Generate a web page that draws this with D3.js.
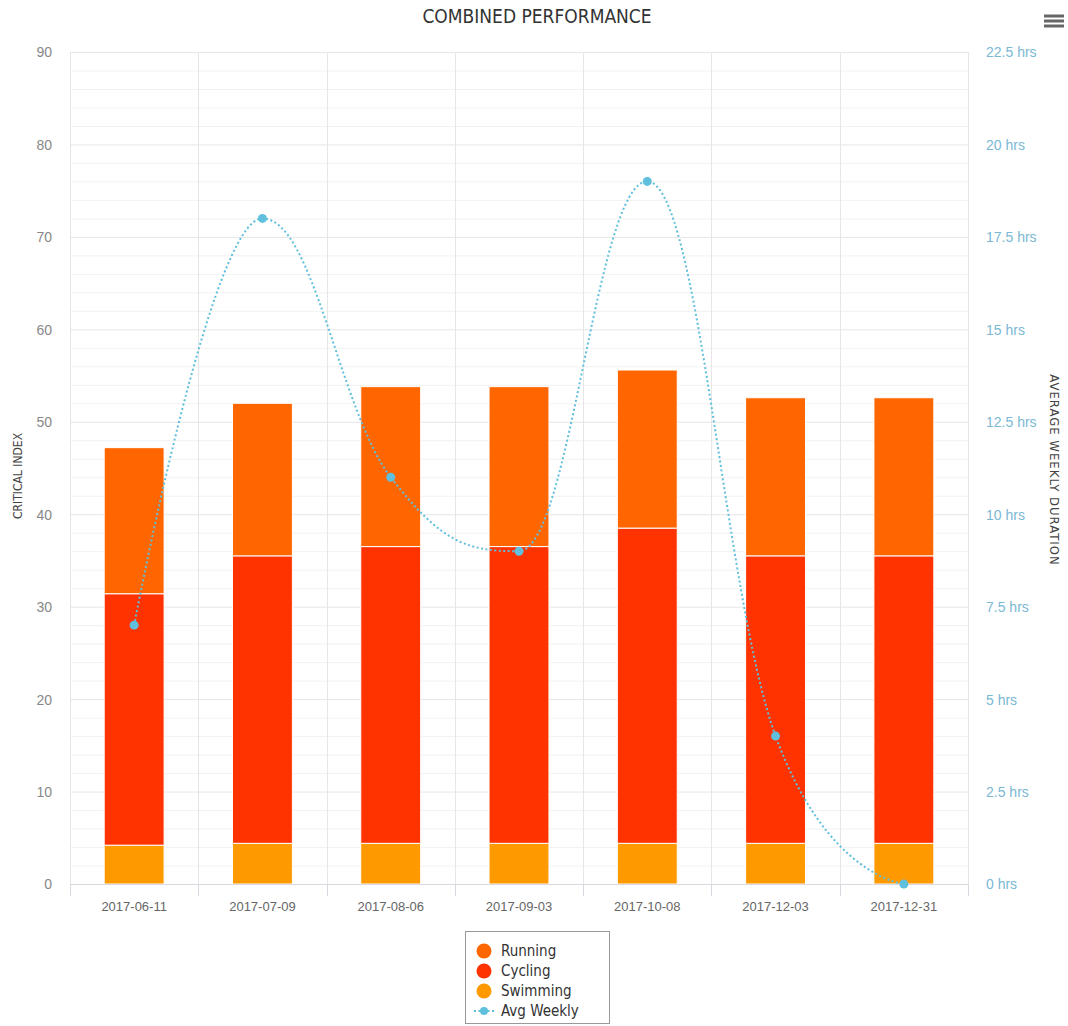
<!DOCTYPE html>
<html>
<head>
<meta charset="utf-8">
<script src="https://cdn.jsdelivr.net/npm/d3@7"></script>
<style>
  html, body { margin: 0; padding: 0; background: #fff; }
  svg { display: block; font-family: "Liberation Sans Narrow", "DejaVu Sans Condensed", "Roboto Condensed", sans-serif; }
</style>
</head>
<body>
<svg id="chart" width="1068" height="1026"></svg>
<script>
// Weekly buckets shown on the category axis
const weeks = ["2017-06-11", "2017-07-09", "2017-08-06", "2017-09-03", "2017-10-08", "2017-12-03", "2017-12-31"];

// Critical index contribution per sport (stacked, left axis)
const swimming = [4.2, 4.4, 4.4, 4.4, 4.4, 4.4, 4.4];
const cycling  = [27.2, 31.1, 32.1, 32.1, 34.1, 31.1, 31.1];
const running  = [15.8, 16.5, 17.3, 17.3, 17.1, 17.1, 17.1];

// Average weekly duration in hours (right axis)
const avgWeekly = [7, 18, 11, 9, 19, 4, 0];

// Axis ticks
const leftTicks = [0, 10, 20, 30, 40, 50, 60, 70, 80, 90];
const rightTicks = [0, 2.5, 5, 7.5, 10, 12.5, 15, 17.5, 20, 22.5];

const seriesNames = ["Running", "Cycling", "Swimming"];
const colors = { Running: "#ff6600", Cycling: "#ff3300", Swimming: "#ff9900" };
const lineColor = "#5fbfdc";

const svg = d3.select("#chart");
const plot = { left: 70, right: 968, top: 52, bottom: 884 };

const x = d3.scaleBand().domain(weeks).range([plot.left, plot.right]).paddingInner(0).paddingOuter(0);
const yLeft = d3.scaleLinear().domain([0, 90]).range([plot.bottom, plot.top]);
const yRight = d3.scaleLinear().domain([0, 22.5]).range([plot.bottom, plot.top]);

// Minor grid lines every 2 index points
const grid = svg.append("g");
grid.selectAll("line.minor")
  .data(d3.range(2, 90, 2).filter(v => v % 10 !== 0))
  .join("line")
  .attr("x1", plot.left).attr("x2", plot.right)
  .attr("y1", d => yLeft(d) + 0.5).attr("y2", d => yLeft(d) + 0.5)
  .attr("stroke", "#f2f2f2").attr("stroke-width", 1);
grid.selectAll("line.major")
  .data(leftTicks.filter(v => v > 0))
  .join("line")
  .attr("x1", plot.left).attr("x2", plot.right)
  .attr("y1", d => yLeft(d) + 0.5).attr("y2", d => yLeft(d) + 0.5)
  .attr("stroke", "#e6e6e6").attr("stroke-width", 1);
// Vertical grid lines at category boundaries
const bounds = weeks.map(w => x(w)).concat([plot.right]);
grid.selectAll("line.v")
  .data(bounds)
  .join("line")
  .attr("x1", d => Math.round(d) + 0.5).attr("x2", d => Math.round(d) + 0.5)
  .attr("y1", plot.top).attr("y2", plot.bottom)
  .attr("stroke", "#e6e6e6").attr("stroke-width", 1);

// Stacked bars
const table = weeks.map((w, i) => ({ week: w, Swimming: swimming[i], Cycling: cycling[i], Running: running[i] }));
const stack = d3.stack().keys(["Swimming", "Cycling", "Running"]);
const layers = stack(table);
const barW = x.bandwidth() * 0.467;
svg.append("g").selectAll("g")
  .data(layers)
  .join("g")
  .attr("fill", d => colors[d.key])
  .selectAll("rect")
  .data(d => d)
  .join("rect")
  .attr("x", d => x(d.data.week) + (x.bandwidth() - barW) / 2)
  .attr("width", barW)
  .attr("y", d => yLeft(d[1]))
  .attr("height", d => yLeft(d[0]) - yLeft(d[1]))
  .attr("stroke", "#ffffff").attr("stroke-width", 1);

// X axis line and ticks
svg.append("line")
  .attr("x1", plot.left).attr("x2", plot.right)
  .attr("y1", plot.bottom + 0.5).attr("y2", plot.bottom + 0.5)
  .attr("stroke", "#d8d8e0").attr("stroke-width", 1);
svg.append("g").selectAll("line")
  .data(bounds)
  .join("line")
  .attr("x1", d => Math.round(d) + 0.5).attr("x2", d => Math.round(d) + 0.5)
  .attr("y1", plot.bottom).attr("y2", plot.bottom + 12)
  .attr("stroke", "#d8d8e0");

const xAxis = d3.axisBottom(x).tickSize(0).tickPadding(18);
const gx = svg.append("g").attr("transform", `translate(0,${plot.bottom})`).call(xAxis);
gx.select(".domain").remove();
gx.selectAll("text").attr("fill", "#666").attr("font-size", 13);

// Left axis
const gl = svg.append("g").attr("transform", `translate(${plot.left},0)`)
  .call(d3.axisLeft(yLeft).tickValues(leftTicks).tickSize(0).tickPadding(18));
gl.select(".domain").remove();
gl.selectAll("text").attr("fill", "#888").attr("font-size", 14).attr("dy", "0.35em");

// Right axis
const gr = svg.append("g").attr("transform", `translate(${plot.right},0)`)
  .call(d3.axisRight(yRight).tickValues(rightTicks).tickSize(0).tickPadding(18)
    .tickFormat(d => d3.format("~g")(d) + " hrs"));
gr.select(".domain").remove();
gr.selectAll("text").attr("fill", "#7ab8d4").attr("font-size", 14).attr("dy", "0.35em");

// Axis titles
svg.append("text")
  .attr("transform", `translate(22,${(plot.top + plot.bottom) / 2 + 8}) rotate(-90)`)
  .attr("text-anchor", "middle").attr("fill", "#444").attr("font-size", 12)
  .text("CRITICAL INDEX");
svg.append("text")
  .attr("transform", `translate(1050,${(plot.top + plot.bottom) / 2 + 2}) rotate(90)`)
  .attr("text-anchor", "middle").attr("fill", "#444").attr("font-size", 13)
  .attr("letter-spacing", 1)
  .text("AVERAGE WEEKLY DURATION");

// Title
svg.append("text")
  .attr("x", 537).attr("y", 23)
  .attr("text-anchor", "middle").attr("fill", "#333").attr("font-size", 19)
  .text("COMBINED PERFORMANCE");

// Menu icon
svg.append("g").selectAll("line")
  .data([16, 21, 26])
  .join("line")
  .attr("x1", 1044).attr("x2", 1064)
  .attr("y1", d => d).attr("y2", d => d)
  .attr("stroke", "#666").attr("stroke-width", 3);

// Spline for the average weekly duration
const pts = avgWeekly.map((v, i) => ({ x: x(weeks[i]) + x.bandwidth() / 2, y: yRight(v) }));
const smoothing = 1.5, denom = smoothing + 1;
pts.forEach((p, i) => {
  if (i === 0 || i === pts.length - 1) { p.lcx = p.x; p.lcy = p.y; p.rcx = p.x; p.rcy = p.y; return; }
  const a = pts[i - 1], b = pts[i + 1];
  let lcx = (smoothing * p.x + a.x) / denom, lcy = (smoothing * p.y + a.y) / denom;
  let rcx = (smoothing * p.x + b.x) / denom, rcy = (smoothing * p.y + b.y) / denom;
  const corr = ((rcy - lcy) * (rcx - p.x)) / (rcx - lcx) + p.y - rcy;
  lcy += corr; rcy += corr;
  if (lcy > a.y && lcy > p.y) { lcy = Math.max(a.y, p.y); rcy = 2 * p.y - lcy; }
  else if (lcy < a.y && lcy < p.y) { lcy = Math.min(a.y, p.y); rcy = 2 * p.y - lcy; }
  if (rcy > b.y && rcy > p.y) { rcy = Math.max(b.y, p.y); lcy = 2 * p.y - rcy; }
  else if (rcy < b.y && rcy < p.y) { rcy = Math.min(b.y, p.y); lcy = 2 * p.y - rcy; }
  p.lcx = lcx; p.lcy = lcy; p.rcx = rcx; p.rcy = rcy;
});
const path = d3.path();
pts.forEach((p, i) => {
  if (i === 0) path.moveTo(p.x, p.y);
  else { const a = pts[i - 1]; path.bezierCurveTo(a.rcx, a.rcy, p.lcx, p.lcy, p.x, p.y); }
});
svg.append("path")
  .attr("d", path.toString())
  .attr("fill", "none").attr("stroke", lineColor).attr("stroke-width", 2)
  .attr("stroke-dasharray", "2,2.5");
svg.append("g").selectAll("circle")
  .data(pts)
  .join("circle")
  .attr("cx", d => d.x).attr("cy", d => d.y).attr("r", 4.5)
  .attr("fill", lineColor);

// Legend
const lg = svg.append("g").attr("transform", "translate(465,931)");
lg.append("rect").attr("x", 0.5).attr("y", 0.5).attr("width", 144).attr("height", 92)
  .attr("fill", "#fff").attr("stroke", "#999").attr("stroke-width", 1);
const items = seriesNames.concat(["Avg Weekly"]);
const row = lg.selectAll("g").data(items).join("g")
  .attr("transform", (d, i) => `translate(0,${20 + i * 20})`);
row.each(function (d) {
  const g = d3.select(this);
  if (d === "Avg Weekly") {
    g.append("line").attr("x1", 9).attr("x2", 29).attr("y1", 0).attr("y2", 0)
      .attr("stroke", lineColor).attr("stroke-width", 2).attr("stroke-dasharray", "2,2.5");
    g.append("circle").attr("cx", 19).attr("cy", 0).attr("r", 4).attr("fill", lineColor);
  } else {
    g.append("circle").attr("cx", 19).attr("cy", 0).attr("r", 7.5).attr("fill", colors[d]);
  }
  g.append("text").attr("x", 36).attr("y", 0).attr("dy", "0.35em")
    .attr("font-size", 15).attr("fill", "#333").text(d);
});
</script>
</body>
</html>
